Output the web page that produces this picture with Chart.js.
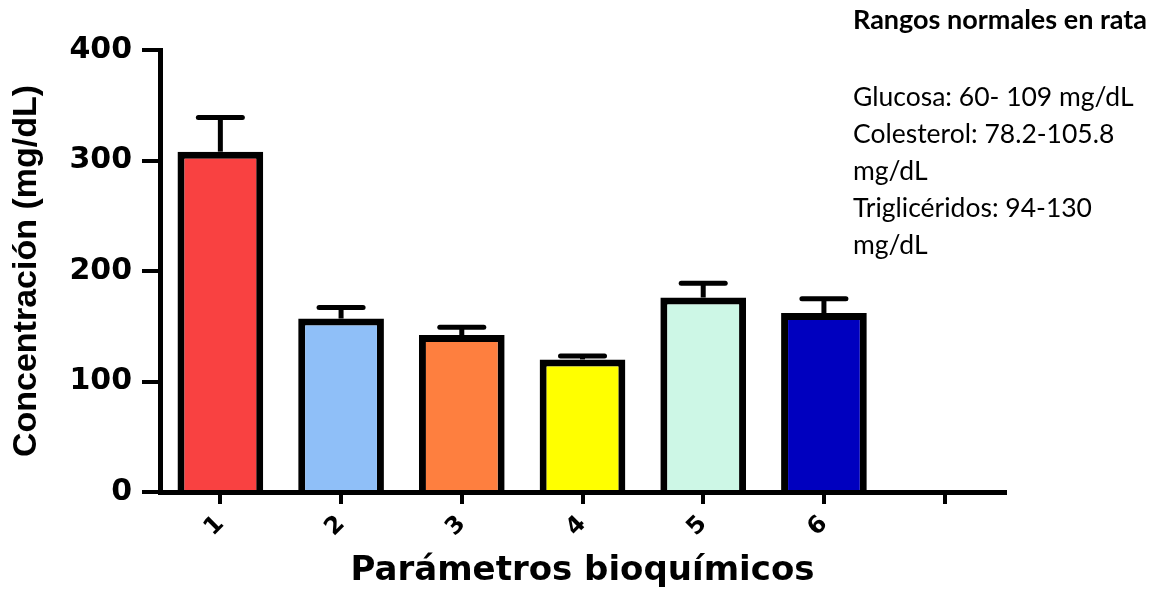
<!DOCTYPE html>
<html>
<head>
<meta charset="utf-8">
<script src="https://cdn.jsdelivr.net/npm/chart.js@4.4.1/dist/chart.umd.min.js"></script>
<style>
  body { margin: 0; background: #fff; }
  #wrap { position: relative; width: 1155px; height: 592px; }
  #notes { position: absolute; left: 853px; top: 0; font-family: Lato, "Open Sans", sans-serif; color: #000; }
  #notes .t { position: absolute; left: 0; top: 0px; font-weight: bold; font-size: 27px; line-height: 37px; white-space: nowrap; }
  #notes .l { position: absolute; left: 0; top: 78px; font-size: 26.5px; line-height: 37px; white-space: nowrap; }
</style>
</head>
<body>
<div id="wrap">
  <canvas id="chart" width="1155" height="592"></canvas>
  <div id="notes">
    <div class="t">Rangos normales en rata</div>
    <div class="l">Glucosa: 60- 109 mg/dL<br>Colesterol: 78.2-105.8<br>mg/dL<br>Triglicéridos: 94-130<br>mg/dL</div>
  </div>
</div>
<script>
// datos del gráfico
const categories = ['1', '2', '3', '4', '5', '6', ''];
const means = [308, 157, 142, 120, 176, 162, null];
const errors = [31, 10, 7, 3, 13, 13, null];
const barColors = ['#f94141', '#8fbff8', '#fe7f3f', '#ffff00', '#cdf7e6', '#0000bf', '#ffffff'];
const yTicks = [0, 100, 200, 300, 400];

// barras de error (solo hacia arriba)
const errorBars = {
    id: 'errorBars',
    afterDatasetsDraw(chart) {
        const ctx = chart.ctx;
        const y = chart.scales.y;
        const meta = chart.getDatasetMeta(0);
        ctx.save();
        ctx.strokeStyle = '#000';
        ctx.lineWidth = 5;
        meta.data.forEach((bar, i) => {
            if (means[i] == null || errors[i] == null) return;
            const top = y.getPixelForValue(means[i] + errors[i]);
            const base = y.getPixelForValue(means[i]);
            ctx.lineCap = 'butt';
            ctx.beginPath();
            ctx.moveTo(bar.x, base);
            ctx.lineTo(bar.x, top);
            ctx.stroke();
            ctx.lineCap = 'round';
            ctx.beginPath();
            ctx.moveTo(bar.x - 22, top);
            ctx.lineTo(bar.x + 22, top);
            ctx.stroke();
        });
        ctx.restore();
    }
};

const ctx = document.getElementById('chart').getContext('2d');
new Chart(ctx, {
    type: 'bar',
    data: {
        labels: categories,
        datasets: [{
            data: means,
            backgroundColor: barColors,
            borderColor: '#000',
            borderWidth: 7,
            barPercentage: 0.71,
            categoryPercentage: 1
        }]
    },
    options: {
        responsive: false,
        animation: false,
        events: [],
        layout: { padding: { left: 0, right: 150, top: 50, bottom: 0 } },
        plugins: { legend: { display: false }, tooltip: { enabled: false } },
        scales: {
            x: {
                offset: true,
                afterFit(scale) { scale.height = 100; },
                grid: { offset: false, drawOnChartArea: false, drawTicks: true, tickLength: 12, color: '#000', lineWidth: 4 },
                border: { display: true, color: '#000', width: 5 },
                ticks: {
                    minRotation: 45, maxRotation: 45, padding: 6, color: '#000',
                    font: { family: 'DejaVu Sans', weight: 'bold', size: 24 }
                },
                title: {
                    display: true, text: 'Parámetros bioquímicos', color: '#000',
                    font: { family: 'DejaVu Sans', weight: 'bold', size: 34 },
                    padding: { top: 0, bottom: 0 }
                }
            },
            y: {
                min: 0, max: 400,
                afterFit(scale) { scale.width = 160; },
                afterBuildTicks(scale) { scale.ticks = yTicks.map(v => ({ value: v })); },
                grid: { drawOnChartArea: false, drawTicks: true, tickLength: 18, color: '#000', lineWidth: 4 },
                border: { display: true, color: '#000', width: 5 },
                ticks: {
                    padding: 10, color: '#000',
                    font: { family: 'DejaVu Sans', weight: 'bold', size: 30 }
                },
                title: {
                    display: true, text: 'Concentración (mg/dL)', color: '#000',
                    font: { family: 'Liberation Sans', weight: 'bold', size: 34 },
                    padding: { top: 6, bottom: 0 }
                }
            }
        }
    },
    plugins: [errorBars]
});
</script>
</body>
</html>
